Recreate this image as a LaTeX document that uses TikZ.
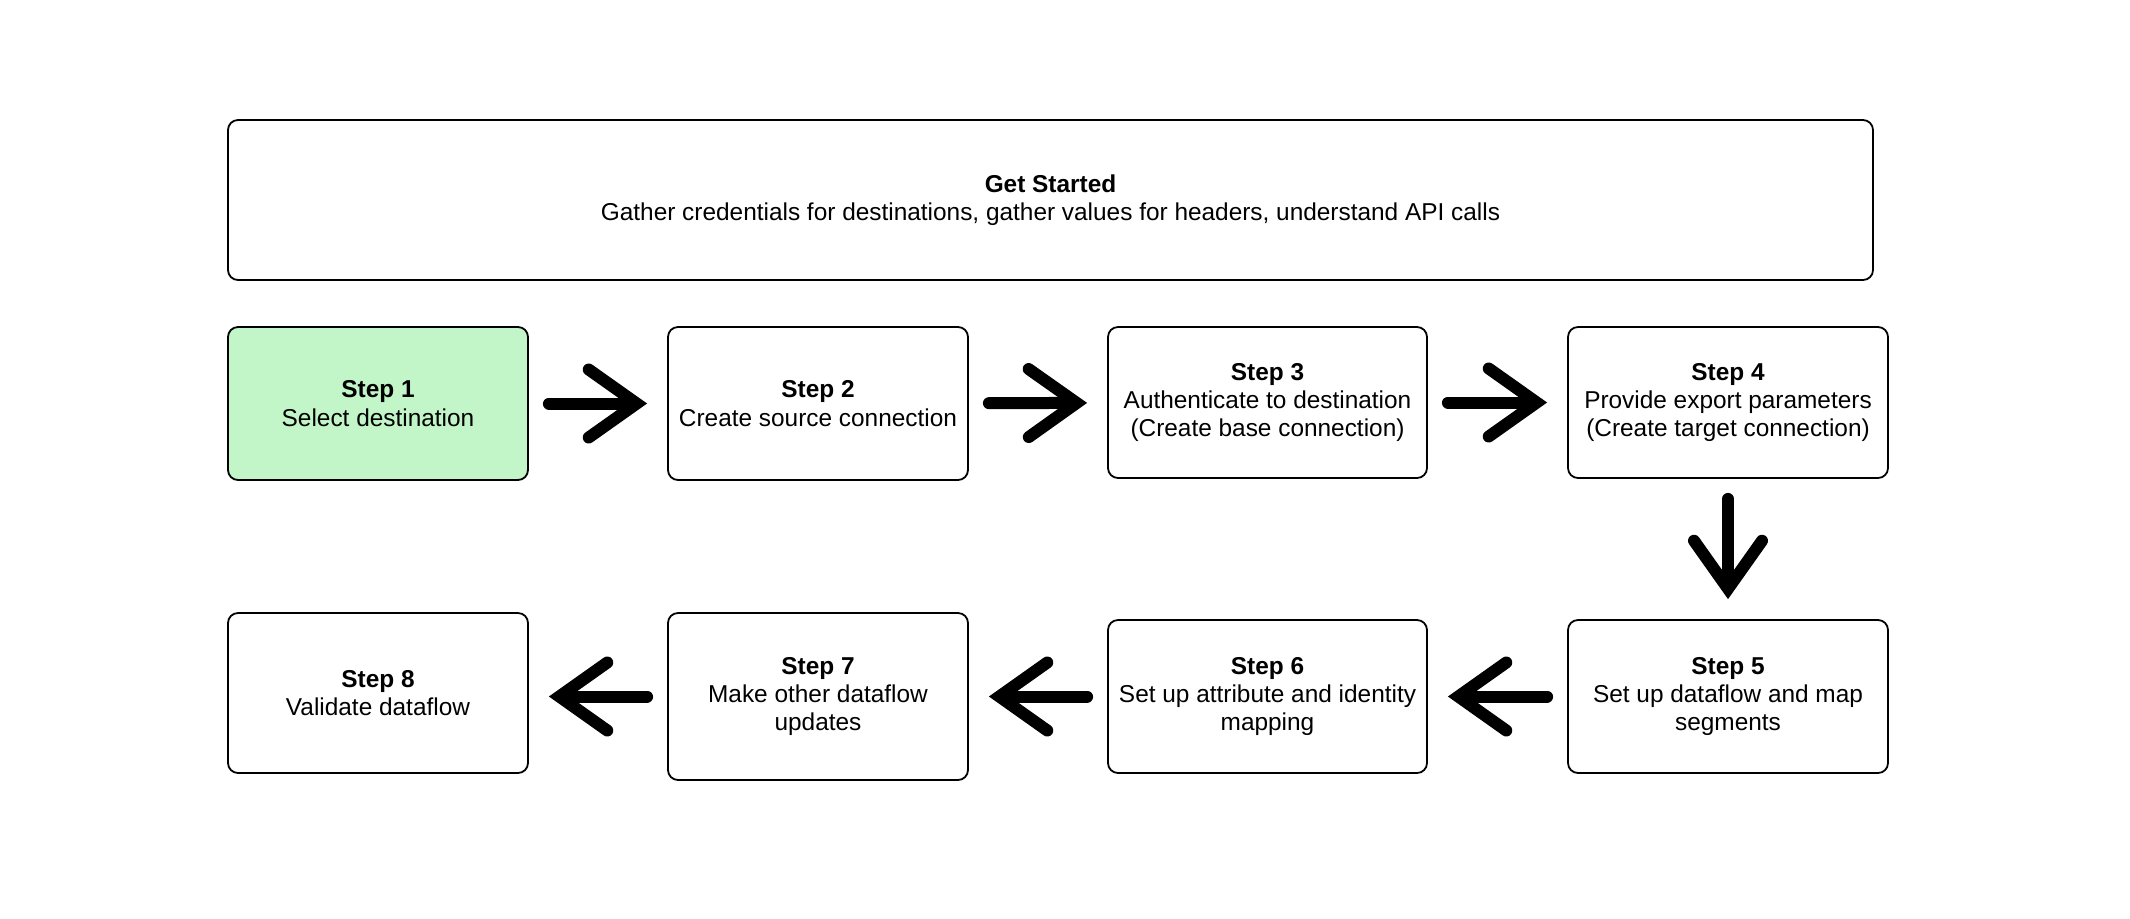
\documentclass[tikz,border=0pt]{standalone}
\usepackage{fontspec}
\setmainfont{Liberation Sans}
\usetikzlibrary{arrows.meta}
\definecolor{stepgreen}{RGB}{194,245,199}
\tikzset{
  stepbox/.style={draw, line width=0.9pt, rounded corners=5pt, align=center,
    inner sep=0pt, font=\fontsize{12.2}{14.2}\selectfont},
  flow/.style={line width=6pt, line cap=round, shorten <=10pt, shorten >=10pt,
    -{Straight Barb[length=24pt, width=34pt, line cap=round, line join=miter]}}
}
\begin{document}
\begin{tikzpicture}[x=0.5pt, y=-0.5pt]
        \useasboundingbox (0,0) rectangle (2130,918);
        \node[stepbox, minimum width=822.5pt, minimum height=80pt] (start) at (1050.5,200) {\textbf{Get Started}\\Gather credentials for destinations, gather values for headers, understand API calls};
        % top row
        \node[stepbox, fill=stepgreen, minimum width=150pt, minimum height=76.5pt] (s1) at (378,403.5) {\textbf{Step 1}\\Select destination};
        \node[stepbox, minimum width=150pt, minimum height=76.5pt] (s2) at (818,403.5) {\textbf{Step 2}\\Create source connection};
        \node[stepbox, minimum width=159.5pt, minimum height=75.5pt] (s3) at (1267.5,402.5) {\textbf{Step 3}\\Authenticate to destination\\(Create base connection)};
        \node[stepbox, minimum width=160pt, minimum height=75.5pt] (s4) at (1728,402.5) {\textbf{Step 4}\\Provide export parameters\\(Create target connection)};
        % bottom row
        \node[stepbox, minimum width=160pt, minimum height=76.5pt] (s5) at (1728,696.5) {\textbf{Step 5}\\Set up dataflow and map\\segments};
        \node[stepbox, minimum width=159.5pt, minimum height=76.5pt] (s6) at (1267.5,696.5) {\textbf{Step 6}\\Set up attribute and identity\\mapping};
        \node[stepbox, minimum width=150pt, minimum height=83.5pt] (s7) at (818,696.5) {\textbf{Step 7}\\Make other dataflow\\updates};
        \node[stepbox, minimum width=150pt, minimum height=80pt] (s8) at (378,693) {\textbf{Step 8}\\Validate dataflow};
        \foreach \a/\b in {s1/s2, s2/s3, s3/s4, s4/s5}
            \draw[flow] (\a) -- (\b);
        \foreach \a/\b in {s5/s6, s6/s7, s7/s8}
            \draw[flow] (\a.west) -- (\a.west -| \b.east);
    \end{tikzpicture}
\end{document}
